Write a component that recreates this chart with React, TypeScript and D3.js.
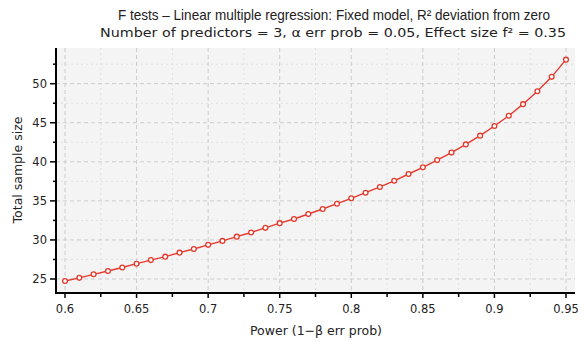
import React from "react";
import * as d3 from "d3";

const powers = [0.60,0.61,0.62,0.63,0.64,0.65,0.66,0.67,0.68,0.69,0.70,0.71,0.72,0.73,0.74,0.75,0.76,0.77,0.78,0.79,0.80,0.81,0.82,0.83,0.84,0.85,0.86,0.87,0.88,0.89,0.90,0.91,0.92,0.93,0.94,0.95];
const sampleSizes = [24.74,25.15,25.6,26.02,26.47,26.96,27.42,27.86,28.37,28.84,29.37,29.88,30.42,30.95,31.55,32.15,32.68,33.32,33.96,34.64,35.33,36.05,36.78,37.57,38.44,39.3,40.22,41.18,42.23,43.35,44.58,45.9,47.38,49.03,50.88,53.08];
const xTickLabels = [0.6,0.65,0.7,0.75,0.8,0.85,0.9,0.95];
const xMinorTicks = [0.625,0.675,0.725,0.775,0.825,0.875,0.925];
const yTickLabels = [25,30,35,40,45,50];
const yMinorTicks = [27.5,32.5,37.5,42.5,47.5,52.5];

const title = "F tests – Linear multiple regression: Fixed model, R² deviation from zero";
const subtitle = "Number of predictors = 3, α err prob = 0.05, Effect size f² = 0.35";
const xTitle = "Power (1−β err prob)";
const yTitle = "Total sample size";

export default function App() {
  const W = 584, H = 342;
  const L = 56, R = 575, T = 48, B = 293;
  const x = d3.scaleLinear().domain([0.6, 0.95]).range([65, 566]);
  const y = d3.scaleLinear().domain([25, 50]).range([279, 83.7]);
  const line = d3.line<number>().x((_, i) => x(powers[i])).y(d => y(d));
  const font = "'DejaVu Sans', sans-serif";
  const red = "#e53a2e";
  return (
    <svg width={W} height={H} style={{ position: "absolute", left: 0, top: 0, background: "#fff" }} fontFamily={font}>
      <rect x={L} y={T} width={R - L} height={B - T} fill="#f4f4f4" />
      {yMinorTicks.map(v => (
        <line key={"ym" + v} x1={L} x2={R} y1={y(v)} y2={y(v)} stroke="#e0e0e0" strokeDasharray="2,3" />
      ))}
      {xMinorTicks.map(v => (
        <line key={"xm" + v} x1={x(v)} x2={x(v)} y1={T} y2={B} stroke="#e0e0e0" strokeDasharray="2,3" />
      ))}
      {yTickLabels.map(v => (
        <line key={"yg" + v} x1={L} x2={R} y1={y(v)} y2={y(v)} stroke="#cccccc" strokeDasharray="4,3" />
      ))}
      {xTickLabels.map(v => (
        <line key={"xg" + v} x1={x(v)} x2={x(v)} y1={T} y2={B} stroke="#cccccc" strokeDasharray="4,3" />
      ))}
      <path d={line(sampleSizes) || ""} fill="none" stroke={red} strokeWidth={1.4} />
      {sampleSizes.map((d, i) => (
        <circle key={i} cx={x(powers[i])} cy={y(d)} r={2.4} fill="#fff" stroke={red} strokeWidth={1.3} />
      ))}
      <line x1={L} x2={L} y1={T} y2={B + 1} stroke="#000" strokeWidth={2} />
      <line x1={L - 1} x2={R} y1={B} y2={B} stroke="#000" strokeWidth={2} />
      {yTickLabels.map(v => (
        <g key={"yt" + v}>
          <line x1={L - 6} x2={L} y1={y(v)} y2={y(v)} stroke="#000" strokeWidth={1.5} />
          <text x={L - 9} y={y(v)} dy="0.35em" textAnchor="end" fontSize={11.5} fill="#222">{v}</text>
        </g>
      ))}
      {yMinorTicks.map(v => (
        <line key={"ytm" + v} x1={L - 3} x2={L} y1={y(v)} y2={y(v)} stroke="#000" strokeWidth={1.5} />
      ))}
      {xTickLabels.map(v => (
        <g key={"xt" + v}>
          <line x1={x(v)} x2={x(v)} y1={B} y2={B + 5} stroke="#000" strokeWidth={1.5} />
          <text x={x(v)} y={B + 20} textAnchor="middle" fontSize={11.5} fill="#222">{String(v)}</text>
        </g>
      ))}
      {xMinorTicks.map(v => (
        <line key={"xtm" + v} x1={x(v)} x2={x(v)} y1={B} y2={B + 4} stroke="#000" strokeWidth={1.5} />
      ))}
      <text x={316} y={335} textAnchor="middle" fontSize={12.5} fill="#222">{xTitle}</text>
      <text transform={`translate(22,170) rotate(-90)`} textAnchor="middle" fontSize={12.5} fill="#222">{yTitle}</text>
      <text x={334} y={20} textAnchor="middle" fontSize={14.5} fill="#222" fontFamily="'Liberation Sans', Arial, sans-serif" textLength={432} lengthAdjust="spacingAndGlyphs">{title}</text>
      <text x={333} y={37} textAnchor="middle" fontSize={12.5} fill="#222" textLength={466} lengthAdjust="spacingAndGlyphs">{subtitle}</text>
    </svg>
  );
}
